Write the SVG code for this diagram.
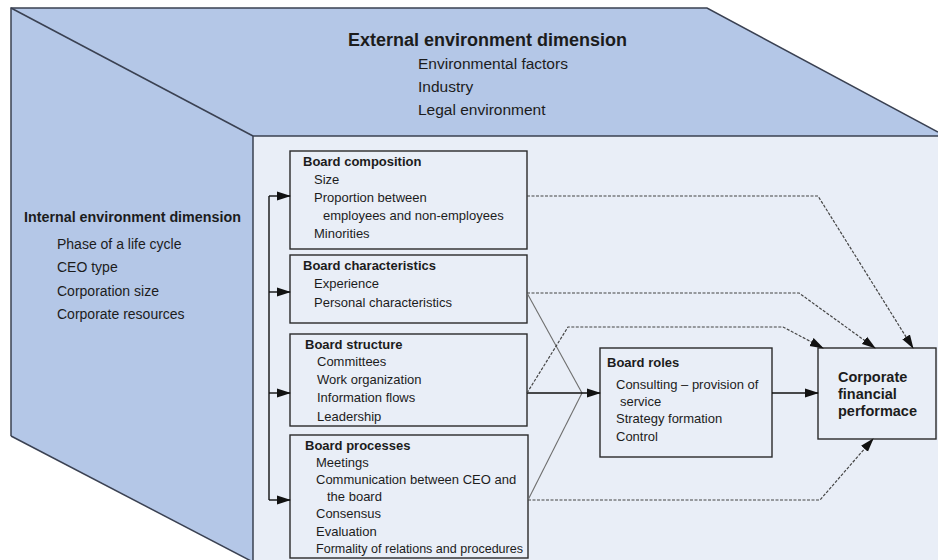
<svg xmlns="http://www.w3.org/2000/svg" width="938" height="560" viewBox="0 0 938 560">
  <defs>
    <style>
      .face { fill: #b4c7e7; stroke: none; }
      .front { fill: #e9eef7; stroke: none; }
      .edge { fill: none; stroke: #3a4152; stroke-width: 1.5; }
      .box { fill: #e9eef7; stroke: #2a2a2a; stroke-width: 1.4; }
      text { font-family: "Liberation Sans", Arial, sans-serif; fill: #1c1c1c; }
      .h1 { font-size: 18px; font-weight: bold; }
      .h2 { font-size: 14.3px; font-weight: bold; }
      .env { font-size: 15.5px; }
      .int { font-size: 14px; }
      .bt { font-size: 13px; font-weight: bold; }
      .bi { font-size: 13px; }
      .perf { font-size: 14.5px; font-weight: bold; }
      .solid { fill: none; stroke: #111; stroke-width: 1.4; }
      .thin { fill: none; stroke: #6e6e6e; stroke-width: 1.1; }
      .dash { fill: none; stroke: #454545; stroke-width: 1.2; stroke-dasharray: 3 1.5; }
    </style>
    <marker id="arrow" markerUnits="userSpaceOnUse" markerWidth="14" markerHeight="10" refX="13" refY="5" orient="auto">
      <path d="M0,0.5 L14,5 L0,9.5 Z" fill="#111"/>
    </marker>
  </defs>

  <!-- cube faces -->
  <g id="cube">
    <polygon class="face" points="11,8 707,8 938,132 938,136 253,136"/>
    <polygon class="face" points="11,8 253,136 253,562 11,436"/>
    <rect class="front" x="253" y="136" width="685" height="424"/>
    <polyline class="edge" points="11,436 11,8 707,8 938,132"/>
    <line class="edge" x1="11" y1="8" x2="253" y2="136"/>
    <line class="edge" x1="11" y1="436" x2="253" y2="562"/>
    <polyline class="edge" points="253,562 253,136 938,136"/>
  </g>

  <!-- external environment label -->
  <g id="external-environment">
    <text class="h1" x="348" y="46">External environment dimension</text>
    <text class="env" x="418" y="69">Environmental factors</text>
    <text class="env" x="418" y="92">Industry</text>
    <text class="env" x="418" y="115">Legal environment</text>
  </g>

  <!-- internal environment label -->
  <g id="internal-environment">
    <text class="h2" x="24" y="222">Internal environment dimension</text>
    <text class="int" x="57" y="249">Phase of a life cycle</text>
    <text class="int" x="57" y="272">CEO type</text>
    <text class="int" x="57" y="296">Corporation size</text>
    <text class="int" x="57" y="319">Corporate resources</text>
  </g>

  <g id="board-composition">
    <rect class="box" x="290" y="151" width="237" height="98"/>
    <text class="bt" x="303" y="166">Board composition</text>
    <text class="bi" x="314" y="184">Size</text>
    <text class="bi" x="314" y="202">Proportion between</text>
    <text class="bi" x="323" y="220">employees and non-employees</text>
    <text class="bi" x="314" y="238">Minorities</text>
  </g>

  <g id="board-characteristics">
    <rect class="box" x="290" y="255" width="237" height="68"/>
    <text class="bt" x="303" y="270">Board characteristics</text>
    <text class="bi" x="314" y="288">Experience</text>
    <text class="bi" x="314" y="307">Personal characteristics</text>
  </g>

  <g id="board-structure">
    <rect class="box" x="290" y="334" width="237" height="92"/>
    <text class="bt" x="305" y="349">Board structure</text>
    <text class="bi" x="317" y="366">Committees</text>
    <text class="bi" x="317" y="384">Work organization</text>
    <text class="bi" x="317" y="402">Information flows</text>
    <text class="bi" x="317" y="421">Leadership</text>
  </g>

  <g id="board-processes">
    <rect class="box" x="290" y="435" width="238" height="123"/>
    <text class="bt" x="305" y="450">Board processes</text>
    <text class="bi" x="316" y="467">Meetings</text>
    <text class="bi" x="316" y="484">Communication between CEO and</text>
    <text class="bi" x="327" y="501">the board</text>
    <text class="bi" x="316" y="518">Consensus</text>
    <text class="bi" x="316" y="536">Evaluation</text>
    <text class="bi" x="316" y="553" textLength="207" lengthAdjust="spacingAndGlyphs">Formality of relations and procedures</text>
  </g>

  <g id="board-roles">
    <rect class="box" x="600" y="348" width="172" height="109"/>
    <text class="bt" x="607" y="367">Board roles</text>
    <text class="bi" x="616" y="389">Consulting – provision of</text>
    <text class="bi" x="620" y="406">service</text>
    <text class="bi" x="616" y="423">Strategy formation</text>
    <text class="bi" x="616" y="441">Control</text>
  </g>

  <g id="corporate-performance">
    <rect class="box" x="818" y="348" width="118" height="91"/>
    <text class="perf" x="838" y="382">Corporate</text>
    <text class="perf" x="838" y="399">financial</text>
    <text class="perf" x="838" y="416">performace</text>
  </g>

  <g id="connectors">
    <!-- internal environment bracket feeding the four board boxes -->
    <line class="solid" x1="269" y1="196" x2="269" y2="500"/>
    <line class="solid" x1="269" y1="196" x2="290" y2="196" marker-end="url(#arrow)"/>
    <line class="solid" x1="269" y1="292" x2="290" y2="292" marker-end="url(#arrow)"/>
    <line class="solid" x1="269" y1="393" x2="290" y2="393" marker-end="url(#arrow)"/>
    <line class="solid" x1="269" y1="500" x2="290" y2="500" marker-end="url(#arrow)"/>

    <!-- board attributes converging on board roles -->
    <line class="thin" x1="527" y1="293" x2="582" y2="393"/>
    <line class="thin" x1="528" y1="500" x2="582" y2="393"/>
    <line class="solid" x1="527" y1="393" x2="600" y2="393" marker-end="url(#arrow)"/>

    <!-- board roles to performance -->
    <line class="solid" x1="772" y1="393" x2="818" y2="393" marker-end="url(#arrow)"/>

    <!-- direct (dashed) effects on performance -->
    <polyline class="dash" points="527,196 818,196 913,348" marker-end="url(#arrow)"/>
    <polyline class="dash" points="527,293 799,293 875,348" marker-end="url(#arrow)"/>
    <polyline class="dash" points="527,393 568,327 783,327 823,348" marker-end="url(#arrow)"/>
    <polyline class="dash" points="528,500 820,500 873,439" marker-end="url(#arrow)"/>
  </g>
</svg>
